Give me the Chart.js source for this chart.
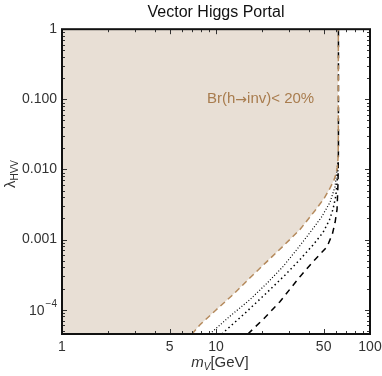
<!DOCTYPE html>
<html>
<head>
<meta charset="utf-8">
<script src="https://cdn.jsdelivr.net/npm/chart.js@4"></script>
<style>
  html, body { margin: 0; padding: 0; background: #fff; }
  #wrap { width: 382px; height: 376px; }
</style>
</head>
<body>
<div id="wrap"><canvas id="c" width="382" height="376"></canvas></div>
<script>
// ---- data (m_V in GeV, lambda_HVV) ----
const Y_MIN = 4.5e-5;
const Y_MAX = 1;

// Br(h->inv) < 20% boundary (brown dashed)
const brownX = [6.98, 7.87, 10.0, 12.9, 16.5, 21.4, 27.5, 35.1, 44.0, 50.5, 55.0, 58.3, 60.3, 61.5, 62.1, 62.3, 62.3];
const brownY = [4.5e-5, 6.1e-5, 9.9e-5, 1.64e-4, 2.8e-4, 4.85e-4, 8.2e-4, 1.39e-3, 2.6e-3, 3.9e-3, 5.4e-3, 7.0e-3, 8.8e-3, 0.011, 0.015, 0.03, 1];

// black fine dotted
const dotAX = [9.1, 12.5, 16.6, 21.5, 27.2, 33.5, 40.8, 48.5, 55.0, 59.3, 61.1, 61.8];
const dotAY = [4.5e-5, 8.3e-5, 1.39e-4, 2.4e-4, 4.1e-4, 7.2e-4, 1.26e-3, 2.1e-3, 3.4e-3, 5.7e-3, 0.010, 0.013];

// black coarse dotted
const dotBX = [10.9, 15.5, 21.4, 28.0, 35.1, 42.5, 49.5, 54.5, 57.5, 60.0, 61.1, 61.8];
const dotBY = [4.5e-5, 9.0e-5, 1.75e-4, 3.1e-4, 5.2e-4, 8.3e-4, 1.26e-3, 1.9e-3, 2.7e-3, 4.2e-3, 6.5e-3, 0.010];

// black dashed
const dashX = [16.1, 20.5, 26.0, 35.1, 44.0, 52.6, 57.0, 59.3, 61.1, 62.0, 62.4, 62.4];
const dashY = [4.5e-5, 7.5e-5, 1.3e-4, 2.96e-4, 5.2e-4, 7.9e-4, 1.2e-3, 1.75e-3, 2.7e-3, 6.5e-3, 0.02, 1];

// shaded region: bottom-left corner, then along the boundary, then to the top
const fillX = [1].concat(brownX);
const fillY = [Y_MIN].concat(brownY);

// tick marks / labels
const xMajor = [1, 5, 10, 50, 100];
const xMinor = [2, 3, 4, 6, 7, 8, 9, 20, 30, 40, 60, 70, 80, 90];
const xLabels = ['1', '5', '10', '50', '100'];
const yMajor = [1e-4, 1e-3, 1e-2, 1e-1, 1];
const yLabels = ['', '0.001', '0.010', '0.100', '1'];
const yMinor = [];
[1e-5, 1e-4, 1e-3, 1e-2, 1e-1].forEach(d => {
  for (let k = 2; k <= 9; k++) yMinor.push(d * k);
});

const FILL_COLOR = '#e8dfd5';
const BROWN = '#b58a5c';
const TEXT = '#333333';
const FONT = 'Liberation Sans, Arial, sans-serif';

function pts(xs, ys) {
  return xs.map((x, i) => ({ x: x, y: ys[i] }));
}

// frame, inward ticks, 10^-4 label, axis titles and annotation
const framePlugin = {
  id: 'frame',
  afterDatasetsDraw(chart) {
    const ctx = chart.ctx;
    const a = chart.chartArea;
    const xs = chart.scales.x;
    const ys = chart.scales.y;
    ctx.save();

    // annotation
    ctx.fillStyle = '#a87c4e';
    ctx.font = '15px ' + FONT;
    ctx.textAlign = 'left';
    ctx.textBaseline = 'middle';
    const part1 = 'Br(h';
    const arrow = '\u2192';
    const part2 = 'inv)< 20%';
    let tx = 207;
    ctx.fillText(part1, tx, 99);
    tx += ctx.measureText(part1).width;
    ctx.font = '14px DejaVu Sans, sans-serif';
    ctx.fillText(arrow, tx, 100);
    tx += ctx.measureText(arrow).width;
    ctx.font = '15px ' + FONT;
    ctx.fillText(part2, tx, 99);

    // ticks
    ctx.strokeStyle = '#333';
    ctx.lineWidth = 1;
    ctx.beginPath();
    const tickX = (v, len) => {
      const p = Math.round(xs.getPixelForValue(v)) + 0.5;
      ctx.moveTo(p, a.bottom); ctx.lineTo(p, a.bottom - len);
      ctx.moveTo(p, a.top); ctx.lineTo(p, a.top + len);
    };
    const tickY = (v, len) => {
      if (v < Y_MIN || v > Y_MAX) return;
      const p = Math.round(ys.getPixelForValue(v)) + 0.5;
      ctx.moveTo(a.left, p); ctx.lineTo(a.left + len, p);
      ctx.moveTo(a.right, p); ctx.lineTo(a.right - len, p);
    };
    xMajor.forEach(v => tickX(v, 5));
    xMinor.forEach(v => tickX(v, 3));
    yMajor.forEach(v => tickY(v, 5));
    yMinor.forEach(v => tickY(v, 3));
    ctx.stroke();

    // frame
    ctx.strokeStyle = '#111';
    ctx.lineWidth = 2;
    ctx.strokeRect(a.left, a.top, a.right - a.left, a.bottom - a.top);

    // 10^-4 label
    ctx.fillStyle = TEXT;
    ctx.textBaseline = 'middle';
    ctx.textAlign = 'right';
    const py = ys.getPixelForValue(1e-4);
    ctx.font = '10px ' + FONT;
    const supW = ctx.measureText('\u22124').width;
    ctx.fillText('\u22124', a.left - 5, py - 5);
    ctx.font = '14px ' + FONT;
    ctx.fillText('10', a.left - 5 - supW - 1, py + 1);

    // x axis title
    ctx.textAlign = 'left';
    ctx.textBaseline = 'alphabetic';
    ctx.font = 'italic 15px ' + FONT;
    const mW = ctx.measureText('m').width;
    ctx.font = 'italic 10px ' + FONT;
    const vW = ctx.measureText('V').width;
    ctx.font = '15px ' + FONT;
    const gW = ctx.measureText('[GeV]').width;
    let x0 = 220 - (mW + vW + gW) / 2;
    const by = 367;
    ctx.font = 'italic 15px ' + FONT;
    ctx.fillText('m', x0, by);
    ctx.font = 'italic 10px ' + FONT;
    ctx.fillText('V', x0 + mW, by + 3);
    ctx.font = '15px ' + FONT;
    ctx.fillText('[GeV]', x0 + mW + vW, by);

    // y axis title
    ctx.translate(15, 174);
    ctx.rotate(-Math.PI / 2);
    ctx.font = '15px ' + FONT;
    const lW = ctx.measureText('\u03bb').width;
    ctx.font = '10px ' + FONT;
    const hW = ctx.measureText('HVV').width;
    const y0 = -(lW + hW) / 2;
    ctx.font = '15px ' + FONT;
    ctx.fillText('\u03bb', y0, 0);
    ctx.font = '10px ' + FONT;
    ctx.fillText('HVV', y0 + lW, 3);
    ctx.restore();
  }
};

const lineBase = { showLine: true, fill: false, pointRadius: 0, tension: 0, borderCapStyle: 'butt' };

new Chart(document.getElementById('c'), {
  type: 'scatter',
  data: {
    datasets: [
      Object.assign({}, lineBase, {
        label: 'region', data: pts(fillX, fillY), order: 10,
        borderWidth: 0, borderColor: 'rgba(0,0,0,0)', backgroundColor: FILL_COLOR, fill: 'end'
      }),
      Object.assign({}, lineBase, {
        label: 'dashed', data: pts(dashX, dashY), order: 4,
        borderColor: '#000', borderWidth: 1.5, borderDash: [6, 5]
      }),
      Object.assign({}, lineBase, {
        label: 'dotB', data: pts(dotBX, dotBY), order: 3,
        borderColor: '#000', borderWidth: 1.5, borderDash: [1.5, 3]
      }),
      Object.assign({}, lineBase, {
        label: 'dotA', data: pts(dotAX, dotAY), order: 2,
        borderColor: '#000', borderWidth: 1.2, borderDash: [1, 2]
      }),
      Object.assign({}, lineBase, {
        label: 'Br(h->inv) < 20%', data: pts(brownX, brownY), order: 1,
        borderColor: BROWN, borderWidth: 1.5, borderDash: [6, 4]
      })
    ]
  },
  options: {
    responsive: false,
    animation: false,
    layout: { padding: { left: 0, right: 12, top: 0, bottom: 0 } },
    plugins: {
      legend: { display: false },
      tooltip: { enabled: false },
      title: {
        display: true,
        text: 'Vector Higgs Portal',
        fullSize: false,
        color: '#111',
        font: { family: FONT, size: 16, weight: 'normal', lineHeight: 1.2 },
        padding: { top: 3, bottom: 7 }
      }
    },
    scales: {
      x: {
        type: 'logarithmic',
        min: 1,
        max: 100,
        grid: { display: false, drawTicks: false },
        border: { display: false },
        afterBuildTicks: s => { s.ticks = xMajor.map(v => ({ value: v })); },
        afterFit: s => { s.height = 42; s.paddingLeft = 0; s.paddingRight = 0; },
        ticks: {
          autoSkip: false,
          maxRotation: 0,
          padding: 5,
          color: TEXT,
          font: { family: FONT, size: 14 },
          callback: (v) => xLabels[xMajor.indexOf(v)]
        }
      },
      y: {
        type: 'logarithmic',
        min: Y_MIN,
        max: Y_MAX,
        grid: { display: false, drawTicks: false },
        border: { display: false },
        afterBuildTicks: s => { s.ticks = yMajor.map(v => ({ value: v })); },
        afterFit: s => { s.width = 62; s.paddingTop = 0; s.paddingBottom = 0; },
        ticks: {
          autoSkip: false,
          padding: 5,
          color: TEXT,
          font: { family: FONT, size: 14 },
          callback: (v) => {
            const i = yMajor.findIndex(m => Math.abs(m - v) / m < 1e-6);
            return i >= 0 ? yLabels[i] : '';
          }
        }
      }
    }
  },
  plugins: [framePlugin]
});
</script>
</body>
</html>
